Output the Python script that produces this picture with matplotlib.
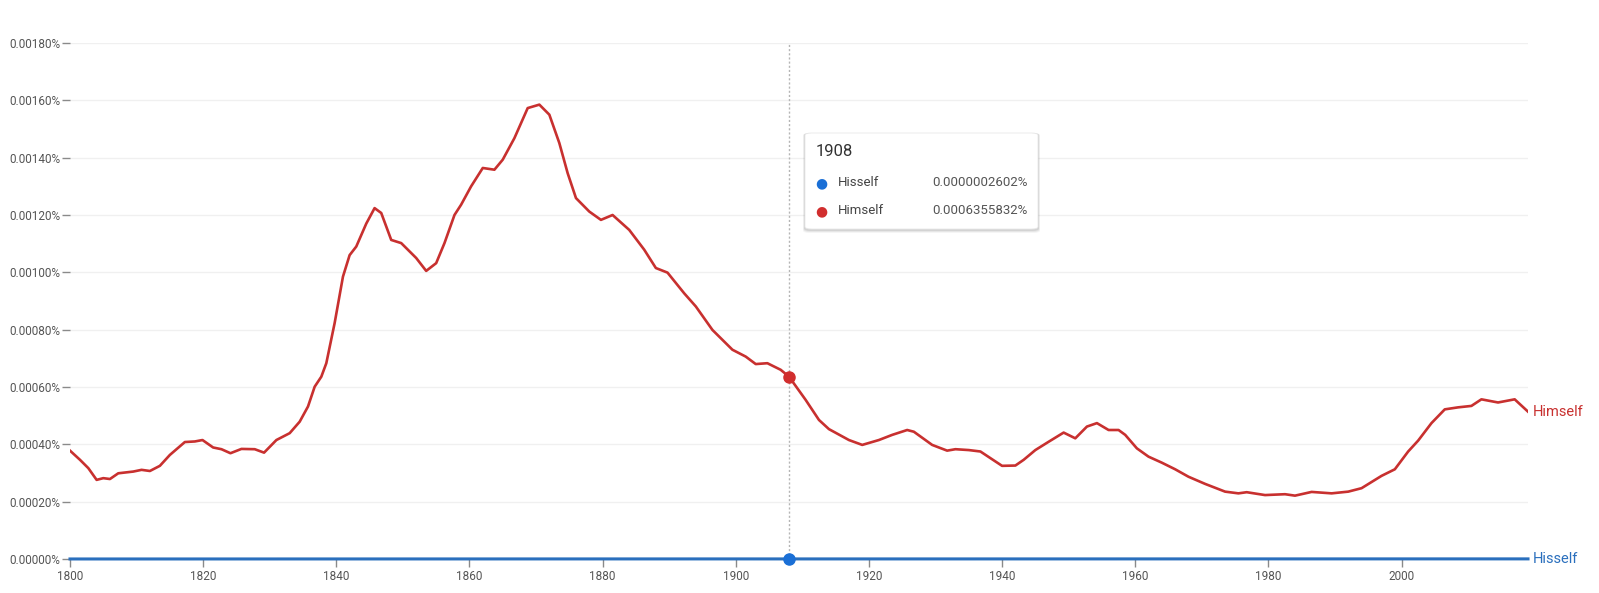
import matplotlib
matplotlib.use("Agg")
import matplotlib.pyplot as plt
from matplotlib.patches import FancyBboxPatch
from matplotlib.ticker import FuncFormatter, MultipleLocator

plt.rcParams["font.family"] = ["Roboto", "DejaVu Sans"]

# Values in percent
himself_years = [
    1800, 1801.5, 1802.75, 1804, 1805, 1806, 1807.25, 1809.5, 1810.75, 1812,
    1813.5, 1815, 1817.25, 1818.75, 1819.9, 1821.5, 1822.75, 1824.1, 1825.75,
    1827.75, 1829.15, 1831, 1833, 1834.5, 1835.75, 1836.75, 1837.75, 1838.5,
    1839.75, 1841, 1842, 1843, 1844.5, 1845.75, 1846.75, 1848.25, 1849.75,
    1852, 1853.5, 1855, 1856.25, 1857.75, 1858.75, 1860.25, 1862, 1863.75,
    1865, 1866.75, 1868.75, 1870.5, 1872, 1873.5, 1874.75, 1876, 1878,
    1879.75, 1881.5, 1884, 1886.25, 1888, 1889.75, 1892.25, 1894, 1896.5,
    1899.5, 1901.5, 1903, 1904.75, 1906.75, 1908, 1910.5, 1912.5, 1914,
    1917, 1919, 1921.5, 1923.5, 1925.75, 1926.75, 1929.5, 1931.75, 1933,
    1935, 1936.75, 1938.5, 1940, 1942, 1943.25, 1945, 1947, 1949.25, 1951,
    1952.75, 1954.25, 1956, 1957.5, 1958.5, 1960.25, 1962, 1964, 1966, 1968,
    1970.5, 1973.5, 1975.5, 1976.75, 1979.5, 1982.5, 1984, 1986.5, 1989.5,
    1992, 1994, 1997, 1999, 2001, 2002.5, 2004.5, 2006.5, 2008.5, 2010.5,
    2012, 2014.5, 2017, 2019,
]
himself_pct = [
    0.000378, 0.000346, 0.000317, 0.000276, 0.000282, 0.000279, 0.000299,
    0.000305, 0.000311, 0.000307, 0.000325, 0.000363, 0.000408, 0.000410,
    0.000415, 0.000389, 0.000383, 0.000369, 0.000384, 0.000383, 0.000371,
    0.000415, 0.000439, 0.000479, 0.000532, 0.000601, 0.000636, 0.000683,
    0.000823, 0.000985, 0.001060, 0.001090, 0.001170, 0.001224, 0.001207,
    0.001113, 0.001102, 0.001050, 0.001005, 0.001032, 0.001102, 0.001200,
    0.001236, 0.001300, 0.001364, 0.001358, 0.001393, 0.001468, 0.001573,
    0.001585, 0.001550, 0.001451, 0.001346, 0.001259, 0.001212, 0.001183,
    0.001200, 0.001148, 0.001079, 0.001015, 0.000999, 0.000927, 0.000881,
    0.000799, 0.000730, 0.000706, 0.000680, 0.000683, 0.000660, 0.000636,
    0.000555, 0.000485, 0.000453, 0.000415, 0.000398, 0.000415, 0.000433,
    0.000450, 0.000444, 0.000398, 0.000378, 0.000383, 0.000380, 0.000375,
    0.000348, 0.000325, 0.000326, 0.000346, 0.000380, 0.000409, 0.000441,
    0.000421, 0.000462, 0.000474, 0.000450, 0.000450, 0.000433, 0.000386,
    0.000357, 0.000336, 0.000313, 0.000287, 0.000262, 0.000235, 0.000229,
    0.000233, 0.000223, 0.000226, 0.000221, 0.000234, 0.000229, 0.000235,
    0.000247, 0.000290, 0.000313, 0.000375, 0.000413, 0.000474, 0.000522,
    0.000529, 0.000534, 0.000557, 0.000546, 0.000557, 0.000514,
]
hisself_years = [1800, 1850, 1900, 1908, 1950, 2000, 2019]
hisself_pct = [0.0000001, 0.0000002, 0.0000003, 0.0000002602, 0.0000003, 0.0000004, 0.0000004]

hover_year = 1908
hover_himself = 0.0006355832
hover_hisself = 0.0000002602

RED = "#c8302f"
BLUE = "#2a6fbd"

fig = plt.figure(figsize=(15.99, 5.93), dpi=100)
W, H = 1599, 593
ax = fig.add_axes([70 / W, 34 / H, (1528 - 70) / W, (559 - 43) / H])

ax.plot(himself_years, himself_pct, color=RED, lw=1.9, solid_joinstyle="round", zorder=3)
ax.plot(hisself_years, hisself_pct, color=BLUE, lw=2.2, zorder=3, clip_on=False)

ax.set_xlim(1800, 2019)
ax.set_ylim(0, 0.0018)
ax.set_xticks(range(1800, 2001, 20))
ax.yaxis.set_major_locator(MultipleLocator(0.0002))
ax.yaxis.set_major_formatter(FuncFormatter(lambda v, _: f"{v:.5f}%"))
ax.tick_params(axis="both", colors="#8a8a8a", labelcolor="#555555", labelsize=8.5,
               length=6, width=1, direction="out")
ax.tick_params(axis="y", pad=1)
ax.tick_params(axis="x", pad=2)
for s in ax.spines.values():
    s.set_visible(False)
ax.grid(axis="y", color="#f0f0f0", lw=1)
ax.set_axisbelow(True)

# hover line and markers
ax.axvline(hover_year, color="#b5b5b5", lw=1, ls=(0, (1.5, 1.5)), zorder=2)
ax.plot([hover_year], [hover_himself], "o", color="#d12e2e", ms=8, zorder=4)
ax.plot([hover_year], [hover_hisself], "o", color="#1a6fd6", ms=8, zorder=4, clip_on=False)

# series end labels
ax.text(1.003, himself_pct[-1], "Himself", transform=ax.get_yaxis_transform(),
        color=RED, fontsize=10.5, va="center", ha="left")
ax.text(1.003, hisself_pct[-1], "Hisself", transform=ax.get_yaxis_transform(),
        color=BLUE, fontsize=10.5, va="center", ha="left")


# tooltip box, in figure pixels
def fx(px):
    return px / W


def fy(py):
    return 1 - py / H


bx0, by0, bx1, by1 = 805, 133, 1038, 229
for off, alpha in [(4, 0.04), (3, 0.06), (2, 0.08)]:
    shadow = FancyBboxPatch((fx(bx0 - off / 2), fy(by1 + off)), fx(bx1 - bx0 + off), (by1 - by0 + off) / H,
                            boxstyle="round,pad=0,rounding_size=0.004", transform=fig.transFigure,
                            facecolor="#000000", alpha=alpha, edgecolor="none", zorder=5)
    fig.add_artist(shadow)
box = FancyBboxPatch((fx(bx0), fy(by1)), fx(bx1 - bx0), (by1 - by0) / H,
                     boxstyle="round,pad=0,rounding_size=0.004", transform=fig.transFigure,
                     facecolor="white", edgecolor="#e8e8e8", lw=0.6, zorder=6)
fig.add_artist(box)
fig.text(fx(816), fy(151), str(hover_year), fontsize=12, color="#333333", va="center",
         ha="left", zorder=7)
rows = [("Hisself", hover_hisself, "#1a6fd6", 183), ("Himself", hover_himself, "#d12e2e", 211)]
for name, val, col, ry in rows:
    fig.text(fx(821), fy(ry), "\u25cf", color=col, fontsize=10, va="center", ha="center",
             zorder=7)
    fig.text(fx(838), fy(ry), name, color="#444444", fontsize=9.5, va="center", ha="left",
             zorder=7)
    fig.text(fx(1028), fy(ry), f"{val:.10f}%", color="#555555", fontsize=9.5, va="center",
             ha="right", zorder=7)

fig.savefig("out.png", dpi=100)
